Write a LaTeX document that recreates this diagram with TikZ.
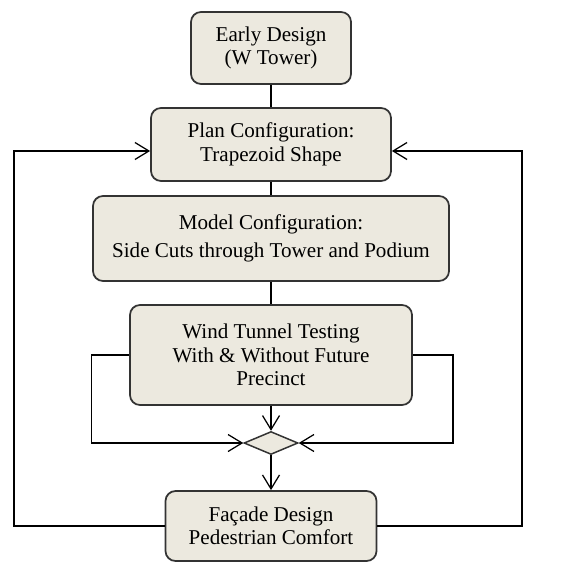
\documentclass[tikz,border=0pt]{standalone}
\usepackage{fontspec}
\setmainfont{Liberation Serif}
\usetikzlibrary{shapes.geometric}
\usetikzlibrary{arrows.meta,calc}
\definecolor{boxfill}{RGB}{236,233,223}

\begin{document}
\begin{tikzpicture}[
  stepbox/.style={rectangle, rounded corners=.2cm, draw=black!80, line width=.035cm, fill=boxfill, align=center, inner sep=0pt, font=\fontsize{12}{13.4}\selectfont},
  flow/.style={-{Straight Barb[length=.28cm,width=.34cm]}, line width=.025cm}
]
\useasboundingbox (0,0) rectangle (11.24cm,-11.24cm);

\node (early) at(5.42cm,-0.96cm) [stepbox, minimum width=3.2cm, minimum height=1.44cm] {Early Design\\(W Tower)};
\node (plan) at(5.42cm,-2.89cm) [stepbox, minimum width=4.8cm, minimum height=1.46cm] {Plan Configuration:\\Trapezoid Shape};
\node (model) at(5.42cm,-4.77cm) [stepbox, minimum width=7.12cm, minimum height=1.7cm] {Model Configuration:\\[.1cm]Side Cuts through Tower and Podium};
\node (tunnel) at(5.42cm,-7.1cm) [stepbox, minimum width=5.64cm, minimum height=2cm] {Wind Tunnel Testing\\With \& Without Future\\Precinct};
\node (merge) at(5.42cm,-8.86cm) [diamond, draw=black!80, line width=.03cm, fill=boxfill, inner sep=0pt, minimum width=1.08cm, minimum height=.46cm] {};
\node (facade) at(5.42cm,-10.52cm) [stepbox, minimum width=4.22cm, minimum height=1.4cm] {Façade Design\\Pedestrian Comfort};

%-----------------------------------------------------
\draw [line width=.025cm] (early) -- (plan);
\draw [line width=.025cm] (plan) -- (model);
\draw [line width=.025cm] (model) -- (tunnel);
\draw [flow] (tunnel) -- (merge);
\draw [flow] (merge) -- (facade);

%-----------------------------------------------------
\draw [flow] (tunnel.west) -- ++(-.76cm,0) |- (merge.west);
\draw [flow] (tunnel.east) -- ++(.8cm,0) |- (merge.east);

%-----------------------------------------------------
\coordinate (loopL) at (0.28cm,-3.02cm);
\coordinate (loopR) at (10.44cm,-3.02cm);
\draw [flow] (facade.west) -| (loopL) -- ([yshift=-.13cm]plan.west);
\draw [flow] (facade.east) -| (loopR) -- ([yshift=-.13cm]plan.east);

\end{tikzpicture}
\end{document}
